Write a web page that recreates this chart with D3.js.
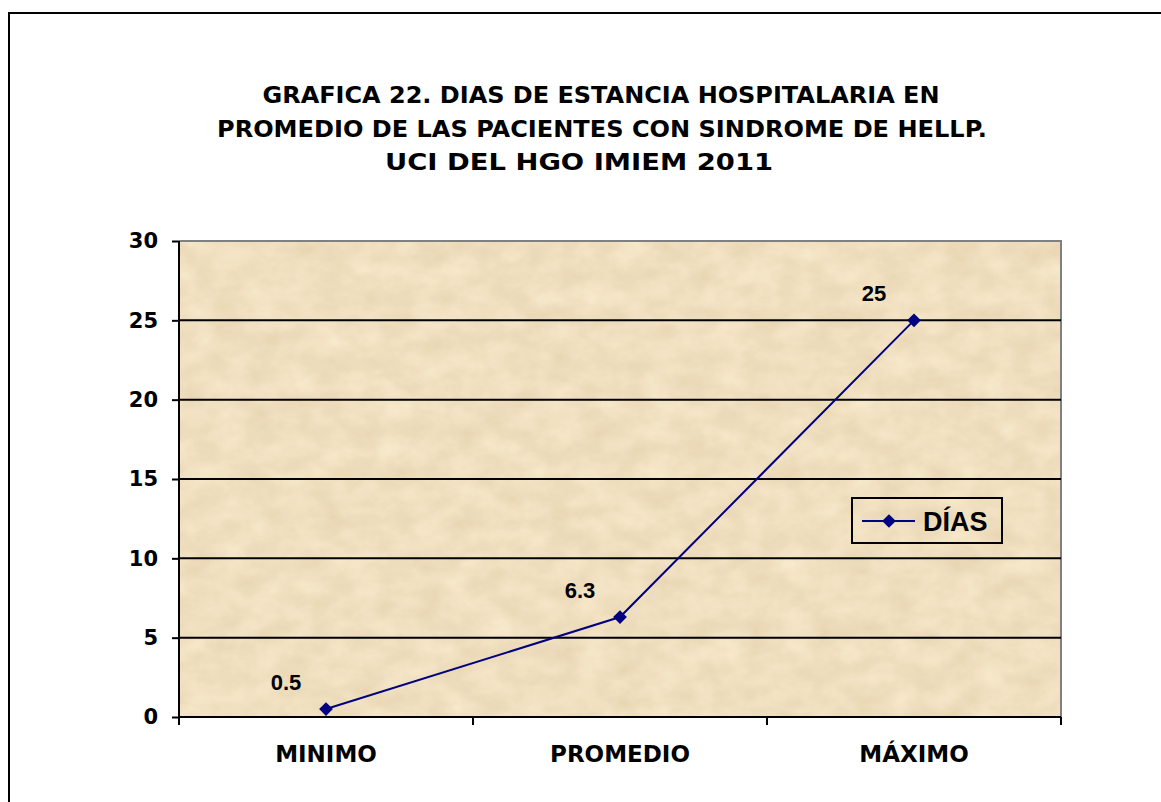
<!DOCTYPE html>
<html>
<head>
<meta charset="utf-8">
<script src="https://cdn.jsdelivr.net/npm/d3@7"></script>
<style>
  body { margin: 0; background: #fff; }
  .axis text { font-family: "DejaVu Sans", Tahoma, sans-serif; font-weight: bold; fill: #000; }
</style>
</head>
<body>
<div id="chart"></div>
<script>
// data
const categories = ["MINIMO", "PROMEDIO", "MÁXIMO"];
const dias = [0.5, 6.3, 25];
const yTicks = [0, 5, 10, 15, 20, 25, 30];
const titleLines = [
    "GRAFICA 22. DIAS DE ESTANCIA HOSPITALARIA EN",
    "PROMEDIO DE LAS PACIENTES CON SINDROME DE HELLP.",
    "UCI DEL HGO IMIEM 2011"
];
const seriesName = "DÍAS";

// title line layout (Tahoma in the original is wider, so stretch to fit)
const titleWidths = [677, 770, 388];
const titleCenters = [601, 602, 579];

const W = 1161, H = 802;
const margin = {top: 241, right: 100, bottom: 85, left: 179};
const width = W - margin.left - margin.right;   // 882
const height = H - margin.top - margin.bottom;  // 476

const svg = d3.select("#chart").append("svg")
    .attr("width", W)
    .attr("height", H);

// parchment texture
const defs = svg.append("defs");
const filt = defs.append("filter").attr("id", "paper")
    .attr("x", 0).attr("y", 0).attr("width", "100%").attr("height", "100%")
    .attr("color-interpolation-filters", "sRGB");
filt.append("feTurbulence")
    .attr("type", "fractalNoise")
    .attr("baseFrequency", "0.03 0.045")
    .attr("numOctaves", 4)
    .attr("seed", 7)
    .attr("result", "noise");
filt.append("feColorMatrix")
    .attr("in", "noise")
    .attr("type", "matrix")
    .attr("values",
        "0 0 0 0.08 0.90 " +
        "0 0 0 0.10 0.825 " +
        "0 0 0 0.13 0.685 " +
        "0 0 0 0 1");

// outer chart border
svg.append("rect")
    .attr("x", 9).attr("y", 13)
    .attr("width", 1160).attr("height", 800)
    .attr("fill", "none")
    .attr("stroke", "#000")
    .attr("stroke-width", 2);

// title
svg.append("g").selectAll("text")
    .data(titleLines)
    .join("text")
    .attr("x", (d, i) => titleCenters[i])
    .attr("y", (d, i) => 103 + i * 33.5)
    .attr("text-anchor", "middle")
    .attr("textLength", (d, i) => titleWidths[i])
    .attr("lengthAdjust", "spacingAndGlyphs")
    .style("font-family", "'DejaVu Sans', Tahoma, sans-serif")
    .style("font-weight", "bold")
    .style("font-size", "23px")
    .text(d => d);

const g = svg.append("g")
    .attr("transform", "translate(" + margin.left + "," + margin.top + ")");

const x = d3.scaleBand().domain(categories).range([0, width]);
const y = d3.scaleLinear().domain([0, 30]).range([height, 0]);

// plot area
g.append("rect")
    .attr("width", width).attr("height", height)
    .attr("filter", "url(#paper)");
g.append("path")
    .attr("d", "M0,0H" + width + "V" + height)
    .attr("fill", "none")
    .attr("stroke", "#808080")
    .attr("stroke-width", 2);

// gridlines
g.selectAll(".grid")
    .data(yTicks.filter(d => d > 0 && d < 30))
    .join("line")
    .attr("class", "grid")
    .attr("x1", 0).attr("x2", width)
    .attr("y1", d => y(d)).attr("y2", d => y(d))
    .attr("stroke", "#000")
    .attr("stroke-width", 2);

// y axis
const yAxis = g.append("g").attr("class", "axis")
    .call(d3.axisLeft(y).tickValues(yTicks).tickSize(7).tickPadding(14));
yAxis.selectAll("text").style("font-size", "21px");
yAxis.selectAll("line, path").attr("stroke", "#000").attr("stroke-width", 2);
yAxis.select(".domain").attr("d", "M0," + height + "V0");

// x axis with ticks at category boundaries
const xAxis = g.append("g").attr("class", "axis")
    .attr("transform", "translate(0," + height + ")");
xAxis.append("line")
    .attr("x1", 0).attr("x2", width)
    .attr("stroke", "#000").attr("stroke-width", 2);
const bounds = categories.map(c => x(c)).concat([width]);
xAxis.selectAll(".tk")
    .data(bounds)
    .join("line")
    .attr("class", "tk")
    .attr("x1", d => d).attr("x2", d => d)
    .attr("y1", 0).attr("y2", 8)
    .attr("stroke", "#000").attr("stroke-width", 2);
xAxis.selectAll(".lbl")
    .data(categories)
    .join("text")
    .attr("class", "lbl")
    .attr("x", d => x(d) + x.bandwidth() / 2)
    .attr("y", 45)
    .attr("text-anchor", "middle")
    .style("font-size", "23px")
    .text(d => d);

// line series
const pts = categories.map((c, i) => ({cat: c, val: dias[i]}));
const cx = d => x(d.cat) + x.bandwidth() / 2;

g.append("path")
    .datum(pts)
    .attr("fill", "none")
    .attr("stroke", "#000080")
    .attr("stroke-width", 2)
    .attr("d", d3.line().x(cx).y(d => y(d.val)));

const diamond = d3.symbol().type(d3.symbolDiamond2).size(120);
g.selectAll(".pt")
    .data(pts)
    .join("path")
    .attr("class", "pt")
    .attr("transform", d => "translate(" + cx(d) + "," + y(d.val) + ")")
    .attr("d", diamond)
    .attr("fill", "#000080");

// data labels
g.selectAll(".val")
    .data(pts)
    .join("text")
    .attr("class", "val")
    .attr("x", d => cx(d) - 40)
    .attr("y", d => y(d.val) - 19)
    .attr("text-anchor", "middle")
    .style("font-family", "'Liberation Sans', Arial, sans-serif")
    .style("font-weight", "bold")
    .style("font-size", "22px")
    .text(d => d.val);

// legend
const lg = g.append("g").attr("transform", "translate(673,257)");
lg.append("rect")
    .attr("width", 150).attr("height", 45)
    .attr("fill", "none")
    .attr("stroke", "#000")
    .attr("stroke-width", 2);
lg.append("line")
    .attr("x1", 10).attr("x2", 63)
    .attr("y1", 23).attr("y2", 23)
    .attr("stroke", "#000080")
    .attr("stroke-width", 2);
lg.append("path")
    .attr("transform", "translate(37,23)")
    .attr("d", diamond)
    .attr("fill", "#000080");
lg.append("text")
    .attr("x", 71).attr("y", 33)
    .style("font-family", "'Liberation Sans', Arial, sans-serif")
    .style("font-weight", "bold")
    .style("font-size", "27px")
    .text(seriesName);
</script>
</body>
</html>
